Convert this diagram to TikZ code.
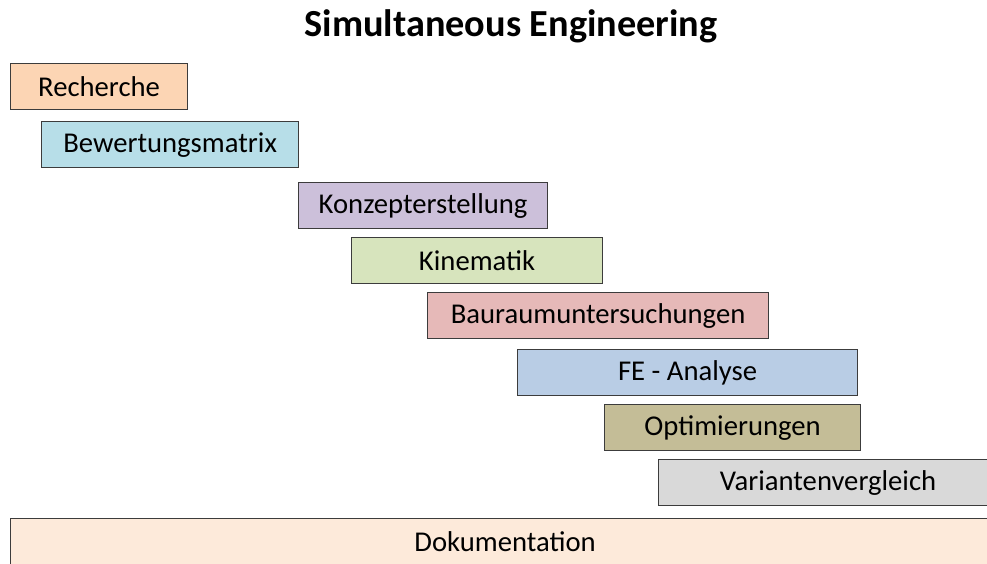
\documentclass[tikz,border=0pt]{standalone}
\usepackage{fontspec}
\setmainfont{Carlito}
\definecolor{recherche}{HTML}{FCD5B4}
\definecolor{bewertung}{HTML}{B7DEE8}
\definecolor{konzept}{HTML}{CCC0DA}
\definecolor{kinematik}{HTML}{D7E4BD}
\definecolor{bauraum}{HTML}{E6B9B8}
\definecolor{feanalyse}{HTML}{B9CDE5}
\definecolor{optimierung}{HTML}{C4BD97}
\definecolor{variante}{HTML}{D9D9D9}
\definecolor{doku}{HTML}{FDEADA}
\definecolor{rahmen}{RGB}{60, 60, 60}
\usetikzlibrary{positioning}

\begin{document}
\begin{tikzpicture}[x=0.75pt, y=-0.75pt,
    phase/.style={draw=rahmen, line width=1.1pt, anchor=north west,
      minimum height=34.5pt, inner sep=0pt, font=\fontsize{21.5}{26}\selectfont}]
  \clip (0,0) rectangle (987,563);
  % Title
  \node[font=\fontsize{28.7}{34}\selectfont\bfseries] (titel) at (511,26)
    {Simultaneous Engineering};
  % Phases, shifted to the right step by step
  \foreach \n/\xa/\xb/\yt/\col/\txt
    [evaluate=\xb as \w using (\xb-\xa)*0.75-1] in {
      p1/10/188/63/recherche/Recherche,
      p2/41/299/121/bewertung/Bewertungsmatrix,
      p3/298/548/182/konzept/Konzepterstellung,
      p4/351/603/237/kinematik/Kinematik,
      p5/427/769/292/bauraum/Bauraumuntersuchungen,
      p6/517/858/349/feanalyse/FE - Analyse,
      p7/604/861/404/optimierung/Optimierungen,
      p8/658/998/459/variante/Variantenvergleich,
      p9/10/1000/518/doku/Dokumentation} {
    \node[phase, fill=\col, minimum width=\w pt] (\n) at (\xa,\yt) {\txt};
  }
\end{tikzpicture}
\end{document}
